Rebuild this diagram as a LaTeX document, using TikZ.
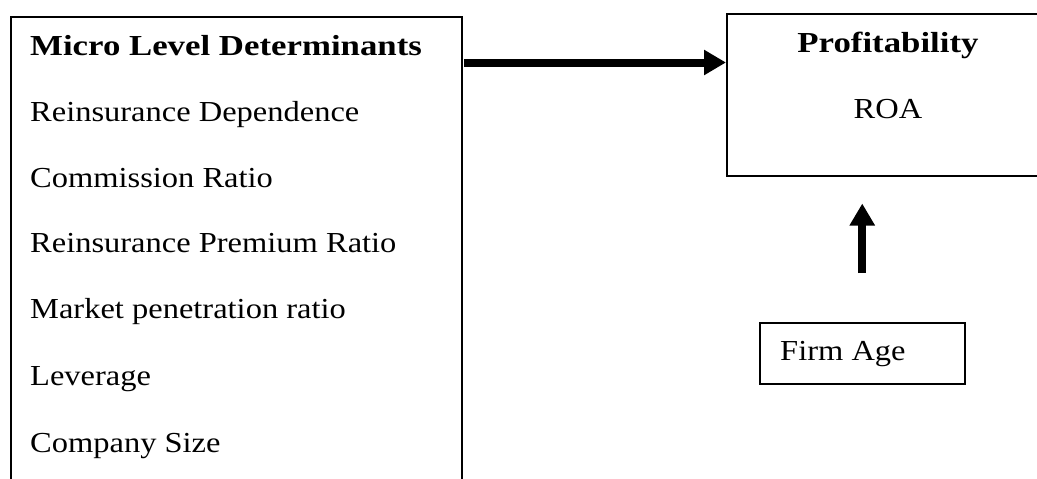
\documentclass[tikz,border=0pt]{standalone}
\usepackage{fontspec}
\setmainfont{Liberation Serif}[FakeStretch=1.12, BoldFeatures={FakeStretch=1.2}]
\usetikzlibrary{arrows.meta}
\begin{document}
\begin{tikzpicture}[x=1pt,y=-1pt,
  box/.style={draw=black, line width=1.5pt, fill=none, inner sep=0pt},
  txt/.style={inner sep=0pt, anchor=base west, font=\fontsize{29}{34}\selectfont},
  ctxt/.style={inner sep=0pt, anchor=base, font=\fontsize{29}{34}\selectfont},
  arr/.style={line width=8pt, -{Triangle[length=22pt,width=24pt]}}]
\useasboundingbox (0,0) rectangle (1037,479);
\clip (0,0) rectangle (1037,479);
\fill[white] (0,0) rectangle (1037,479);
% boxes
\node[box, anchor=north west, minimum width=451pt, minimum height=500pt] (micro) at (10,16) {};
\node[box, anchor=north west, minimum width=324pt, minimum height=162pt] (profit) at (726,13) {};
\node[box, anchor=north west, minimum width=205pt, minimum height=61pt] (firm) at (759,322) {};
% left texts
\node[txt] (t1) at (30,55) {\textbf{Micro Level Determinants}};
\node[txt] (t2) at (30,121) {Reinsurance Dependence};
\node[txt] (t3) at (30,187) {Commission Ratio};
\node[txt] (t4) at (30,252) {Reinsurance Premium Ratio};
\node[txt] (t5) at (30,318) {Market penetration ratio};
\node[txt] (t6) at (30,385) {Leverage};
\node[txt] (t7) at (30,452) {Company Size};
% right texts
\node[ctxt] (ptitle) at (888,52) {\textbf{Profitability}};
\node[ctxt] (roa) at (888,118) {ROA};
\node[txt] (firmtxt) at (780,360) {Firm Age};
% arrows
\coordinate (hstart) at (464,62.5);
\draw[arr] (hstart) -- (hstart -| profit.west);
\draw[arr] ([yshift=49pt]firm.north) -- ([yshift=-27pt]firm.north |- profit.south);
\end{tikzpicture}
\end{document}
